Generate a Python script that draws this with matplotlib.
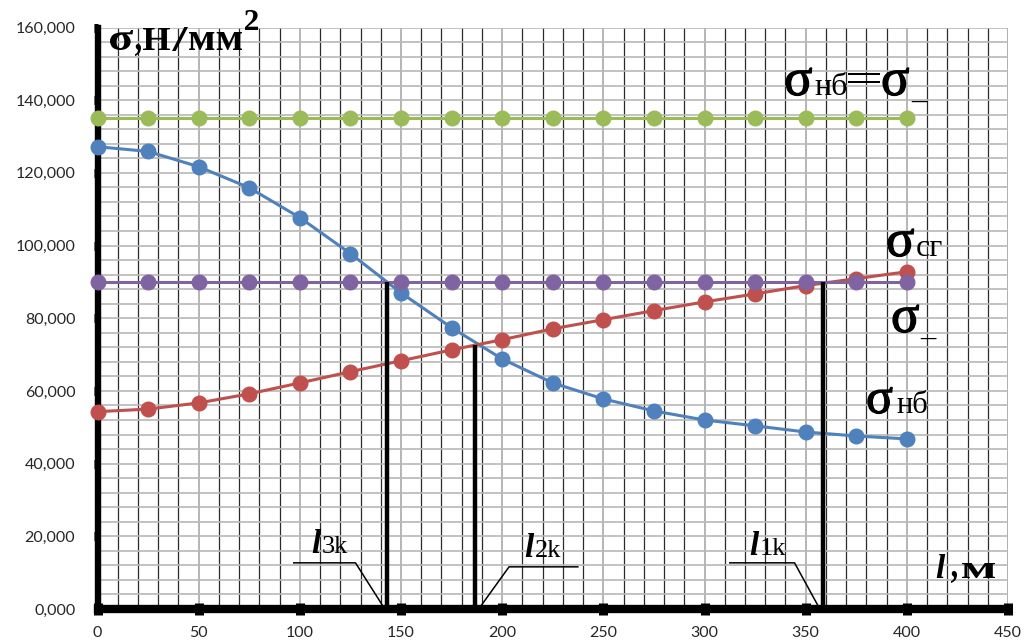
import numpy as np
import matplotlib
matplotlib.use('Agg')
import matplotlib.pyplot as plt
import matplotlib.patheffects as pe
from matplotlib.ticker import MultipleLocator, FuncFormatter
from matplotlib.textpath import TextPath
from matplotlib.patches import PathPatch
from matplotlib.font_manager import FontProperties
from matplotlib.transforms import Affine2D

# ---- data ----
l_m = [0, 25, 50, 75, 100, 125, 150, 175, 200, 225, 250, 275, 300, 325, 350, 375, 400]
sigma_nb = [127200, 125900, 121700, 115900, 107700, 97800, 87000, 77400, 68800,
            62200, 57800, 54500, 52000, 50400, 48700, 47600, 46800]
sigma_sg = [54300, 55000, 56700, 59200, 62200, 65300, 68300, 71300, 74100,
            77100, 79600, 82100, 84500, 86700, 89000, 90900, 92800]
sigma_minus = [90000] * len(l_m)
sigma_nb_eq = [135000] * len(l_m)

# critical lengths l3k, l2k, l1k and the stress where each one is read
l_crit = [143.0, 186.4, 358.5]
l_crit_top = [90000, 72700, 90000]
l_crit_names = ['3k', '2k', '1k']

W, H = 1026, 642
SERIF = 'Liberation Serif'

fig = plt.figure(figsize=(W / 100, H / 100), dpi=100)
ax = fig.add_axes([97.5 / W, 1 - 609 / H, (1008 - 97.5) / W, (609 - 27.5) / H])

# grid
ax.set_xlim(0, 450)
ax.set_ylim(0, 160000)
ax.xaxis.set_major_locator(MultipleLocator(50))
ax.xaxis.set_minor_locator(MultipleLocator(10))
ax.yaxis.set_major_locator(MultipleLocator(20000))
ax.yaxis.set_minor_locator(MultipleLocator(4000))
ax.grid(axis='y', which='both', color='#B8B8B8', lw=1.2, zorder=0)
ax.grid(axis='x', which='minor', color='#2a2a2a', lw=0.9, zorder=0)
ax.grid(axis='x', which='major', color='#B0B0B0', lw=1.3, zorder=0)
ax.set_axisbelow(True)
ax.axvline(450, color='#C8C8C8', lw=1.5, zorder=0)

# series
kw = dict(marker='o', markersize=10.5, lw=2.2, clip_on=False)
ax.plot(l_m, sigma_nb, color='#4F81BD', zorder=3, **kw)
ax.plot(l_m, sigma_sg, color='#C0504D', zorder=3, **kw)
ax.plot(l_m, sigma_nb_eq, color='#9BBB59', zorder=3, **kw)
ax.plot(l_m, sigma_minus, color='#8064A2', zorder=4, **kw)

# critical length markers
for xk, yk in zip(l_crit, l_crit_top):
    ax.plot([xk, xk], [0, yk], color='black', lw=3.2, zorder=5, solid_capstyle='butt')

# spines / ticks
for s in ['top', 'right']:
    ax.spines[s].set_visible(False)
ax.spines['left'].set_linewidth(4.6)
ax.spines['bottom'].set_linewidth(6)
ax.spines['left'].set_zorder(2.5)
ax.spines['bottom'].set_zorder(2.5)
ax.tick_params(axis='x', which='major', direction='inout', length=8.5, width=6.5,
               color='black', pad=8, labelsize=11.5, labelcolor='#262626')
ax.tick_params(axis='y', which='major', direction='out', length=3, width=6.5,
               color='black', pad=13, labelsize=11.5, labelcolor='#262626')
ax.tick_params(which='minor', length=0)
ax.yaxis.set_major_formatter(FuncFormatter(lambda v, p: f'{int(v // 1000)},000'))
for lab in ax.get_xticklabels() + ax.get_yticklabels():
    lab.set_fontfamily('Lato')

heavy = [pe.withStroke(linewidth=0.9, foreground='black')]


def ftxt(px, py, s, size, **kw):
    fig.text(px / W, 1 - py / H, s, fontsize=size, family=SERIF, va='baseline', **kw)


def btext(s, x0, y0, x1, y1, weight='normal', style='normal'):
    # glyphs fitted into a pixel box (left, top, right, bottom), as drawn in the original
    fp = FontProperties(family=SERIF, weight=weight, style=style)
    path = TextPath((0, 0), s, size=100, prop=fp)
    e = path.get_extents()
    tr = (Affine2D().translate(-e.x0, -e.y0)
          .scale((x1 - x0) / e.width, (y1 - y0) / e.height)
          .translate(x0, H - y1))
    fig.add_artist(PathPatch(path, transform=tr, facecolor='black', edgecolor='none'))


# axis title  σ,Н/мм²
btext('σ', 110, 30, 133, 50, weight='bold')
btext(',', 135, 44, 141, 56, weight='bold')
btext('Н', 143, 28, 170, 50, weight='bold')
btext('/', 172, 27, 188, 51, weight='bold')
btext('мм', 189, 32, 242, 50, weight='bold')
btext('2', 245, 10, 258, 30, weight='bold')

# axis title  l, м
ftxt(935, 578, 'l', 24, fontweight='bold', fontstyle='italic')
btext(',', 951, 571, 957, 583, weight='bold')
btext('м', 962, 563, 995, 578, weight='bold')

# curve labels
ftxt(784, 95, 'σ', 38, path_effects=heavy)
ftxt(814, 95, 'нб', 23)
btext('=', 848, 73, 880, 83)
ftxt(881, 95, 'σ', 38, path_effects=heavy)
ftxt(911, 98, '_', 22)

ftxt(886, 256, 'σ', 38, path_effects=heavy)
ftxt(916, 256, 'сг', 23)

ftxt(891, 332, 'σ', 38, path_effects=heavy)
ftxt(920, 335, '_', 22)

ftxt(866, 413, 'σ', 36, path_effects=heavy)
ftxt(896, 413, 'нб', 22)

# l_k labels with leader lines
lab_px = [(311, 553), (524, 557), (749, 555)]
for (px, py), name in zip(lab_px, l_crit_names):
    ftxt(px, py, 'l', 24, fontweight='bold', fontstyle='italic')
    ftxt(px + 11, py, name, 19)

leaders = [
    ([l_crit[0] - 46, l_crit[0] - 15.5, l_crit[0] - 1], [12700, 12700, 0]),
    ([l_crit[1] + 2, l_crit[1] + 17, l_crit[1] + 51], [0, 11600, 11600]),
    ([l_crit[2] - 46, l_crit[2] - 14, l_crit[2] - 1.5], [12700, 12700, 0]),
]
for xs, ys in leaders:
    ax.plot(xs, ys, color='black', lw=1.1, zorder=5, clip_on=False)

fig.savefig('out.png', dpi=100)
